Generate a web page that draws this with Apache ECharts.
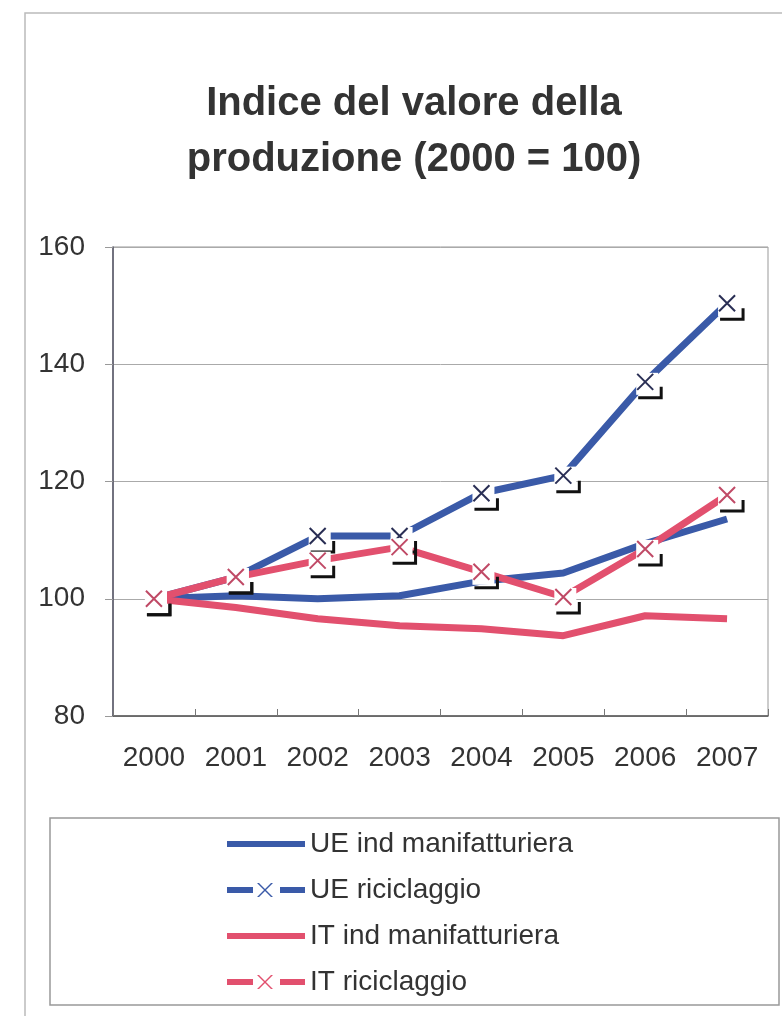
<!DOCTYPE html>
<html>
<head>
<meta charset="utf-8">
<style>
  html, body { margin: 0; padding: 0; background: #fff; }
  #main { width: 782px; height: 1016px; }
</style>
<script src="https://cdn.jsdelivr.net/npm/echarts@6/dist/echarts.min.js"></script>
</head>
<body>
<div id="main"></div>
<script>
// dati (2000 = 100)
var years = ["2000", "2001", "2002", "2003", "2004", "2005", "2006", "2007"];
var ueManif = [100, 100.5, 100, 100.5, 103, 104.4, 109.4, 113.6];
var ueRicic = [100, 103.7, 110.7, 110.7, 118, 121, 137, 150.4];
var itManif = [100, 98.5, 96.6, 95.4, 94.9, 93.7, 97.1, 96.6];
var itRicic = [100, 103.7, 106.5, 108.8, 104.6, 100.3, 108.5, 117.7];
var yTicks = [80, 100, 120, 140, 160];

var BLUE = "#3a5aa8";
var RED = "#e2506e";

// marcatore: croce su quadrato bianco con ombra a "L"
function marker(xColor) {
  var svg =
    '<svg xmlns="http://www.w3.org/2000/svg" width="40" height="40" viewBox="0 0 40 40">' +
    '<rect x="11" y="11" width="22" height="22" fill="#fff"/>' +
    '<path d="M12 12L28 28M28 12L12 28" stroke="' + xColor + '" stroke-width="2" fill="none"/>' +
    '<path d="M13 36H36V25" stroke="#111" stroke-width="3" fill="none"/>' +
    "</svg>";
  return "image://data:image/svg+xml;charset=utf-8," + encodeURIComponent(svg);
}

var iconLine = "path://M0 5L78 5L78 11L0 11Z";
var iconCross = "path://M0 5L26 5L26 11L0 11Z M53 5L78 5L78 11L53 11Z M30 1L32 1L46 15L44 15Z M44 1L46 1L32 15L30 15Z";

var myChart = echarts.init(document.getElementById("main"));
var option = {
  backgroundColor: "#fff",
  animation: false,
  title: {
    text: "Indice del valore della\nproduzione (2000 = 100)",
    left: 414,
    top: 76,
    padding: 0,
    textAlign: "center",
    textStyle: {
      fontFamily: "Liberation Sans, Arial, sans-serif",
      fontSize: 40,
      fontWeight: "bold",
      color: "#333",
      lineHeight: 56
    }
  },
  graphic: [
    {
      type: "rect",
      shape: { x: 25, y: 13, width: 800, height: 1060 },
      style: { fill: "none", stroke: "#bbb", lineWidth: 1.5 },
      z: -1
    },
    {
      type: "rect",
      shape: { x: 50, y: 818, width: 729, height: 187 },
      style: { fill: "none", stroke: "#999", lineWidth: 1.5 },
      z: -1
    }
  ],
  grid: {
    left: 113,
    right: 14,
    top: 247,
    bottom: 300,
    show: true,
    borderColor: "#999",
    borderWidth: 1
  },
  legend: {
    orient: "vertical",
    left: 222,
    top: 824,
    itemWidth: 78,
    itemHeight: 16,
    itemGap: 16,
    itemStyle: { borderWidth: 0 },
    textStyle: {
      fontFamily: "Liberation Sans, Arial, sans-serif",
      fontSize: 28,
      color: "#333",
      lineHeight: 30
    },
    data: [
      { name: "UE ind manifatturiera", icon: iconLine, itemStyle: { color: BLUE } },
      { name: "UE riciclaggio", icon: iconCross, itemStyle: { color: BLUE } },
      { name: "IT ind manifatturiera", icon: iconLine, itemStyle: { color: RED } },
      { name: "IT riciclaggio", icon: iconCross, itemStyle: { color: RED } }
    ]
  },
  xAxis: {
    type: "category",
    data: years,
    boundaryGap: true,
    axisLine: { lineStyle: { color: "#555", width: 1.5 } },
    axisTick: { show: true, inside: true, length: 7, lineStyle: { color: "#777" } },
    axisLabel: {
      margin: 28,
      fontFamily: "Liberation Sans, Arial, sans-serif",
      fontSize: 28,
      color: "#333"
    }
  },
  yAxis: {
    type: "value",
    min: yTicks[0],
    max: yTicks[yTicks.length - 1],
    interval: 20,
    axisLine: { show: true, lineStyle: { color: "#556", width: 1.5 } },
    axisTick: { show: true, length: 8, lineStyle: { color: "#999" } },
    splitLine: { show: true, lineStyle: { color: "#aaa", width: 1 } },
    axisLabel: {
      margin: 28,
      fontFamily: "Liberation Sans, Arial, sans-serif",
      fontSize: 28,
      color: "#333"
    }
  },
  series: [
    {
      name: "UE ind manifatturiera",
      type: "line",
      data: ueManif,
      symbol: "none",
      color: BLUE,
      lineStyle: { color: BLUE, width: 7 }
    },
    {
      name: "UE riciclaggio",
      type: "line",
      data: ueRicic,
      symbol: marker("#2a2f55"),
      symbolSize: 40,
      color: BLUE,
      lineStyle: { color: BLUE, width: 7 }
    },
    {
      name: "IT ind manifatturiera",
      type: "line",
      data: itManif,
      symbol: "none",
      color: RED,
      lineStyle: { color: RED, width: 7 }
    },
    {
      name: "IT riciclaggio",
      type: "line",
      data: itRicic,
      symbol: marker("#c04a66"),
      symbolSize: 40,
      color: RED,
      lineStyle: { color: RED, width: 7 }
    }
  ]
};
myChart.setOption(option);
</script>
</body>
</html>
